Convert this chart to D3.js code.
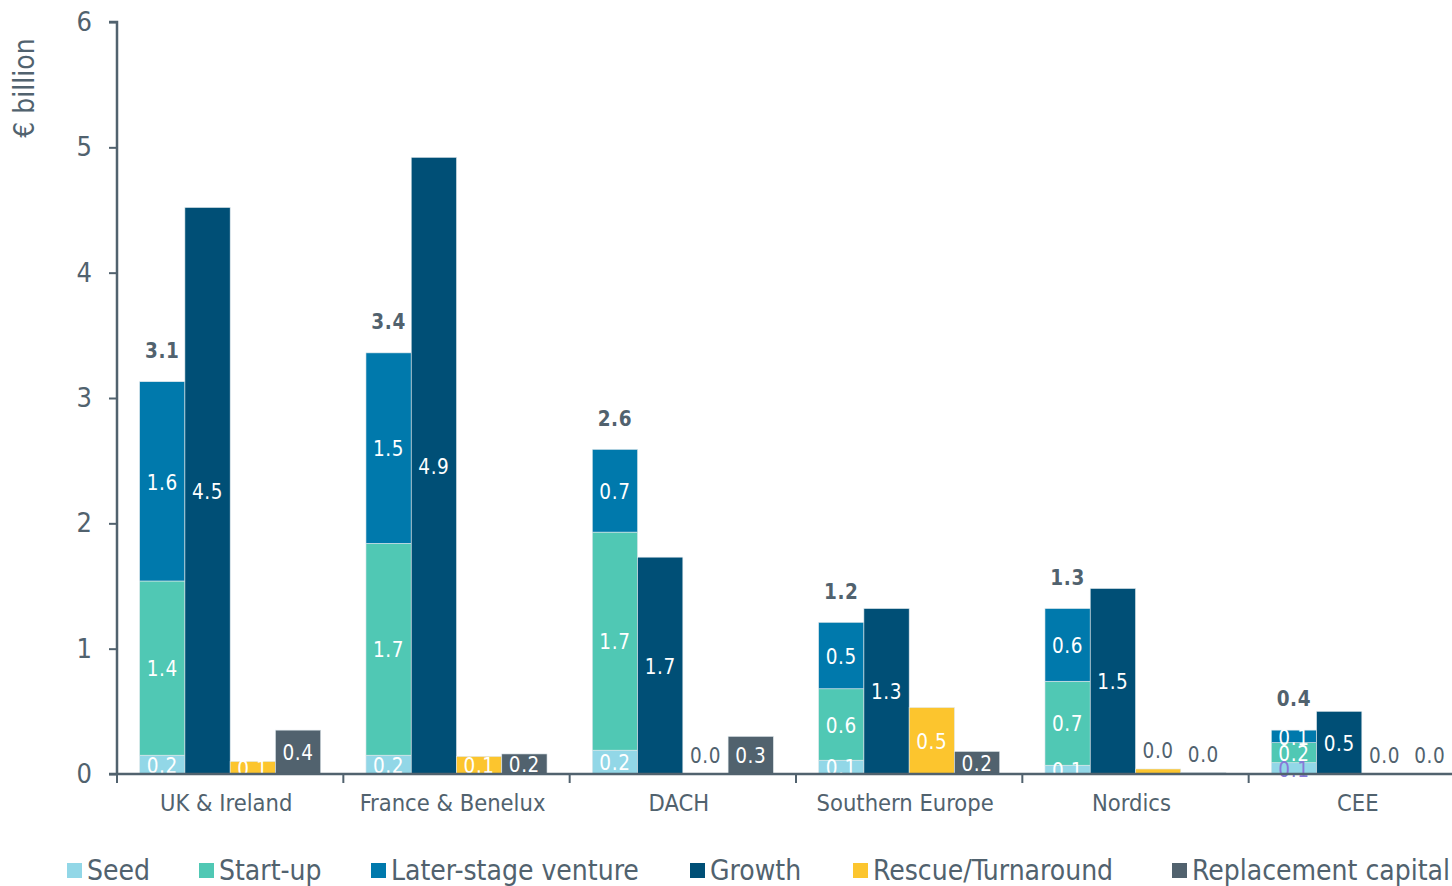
<!DOCTYPE html>
<html><head><meta charset="utf-8">
<script src="https://cdn.jsdelivr.net/npm/d3@7"></script>
<style>
html,body{margin:0;padding:0;background:#fff;overflow:hidden}
svg{display:block;font-family:"DejaVu Sans Condensed","DejaVu Sans",sans-serif}
</style></head><body>
<svg id="c" width="1452" height="886"></svg>
<script>
const categories = ["UK & Ireland","France & Benelux","DACH","Southern Europe","Nordics","CEE"];
const seed      = [0.15, 0.15, 0.19, 0.11, 0.07, 0.09];
const startup   = [1.39, 1.69, 1.74, 0.57, 0.67, 0.16];
const laterStage= [1.59, 1.52, 0.66, 0.53, 0.58, 0.10];
const growth    = [4.52, 4.92, 1.73, 1.32, 1.48, 0.50];
const rescue    = [0.10, 0.14, 0.003, 0.53, 0.04, 0.0];
const replacement=[0.35, 0.16, 0.30, 0.18, 0.01, 0.0];
const ventureTotals = ["3.1","3.4","2.6","1.2","1.3","0.4"];
const seedLabels = ["0.2","0.2","0.2","0.1","0.1","0.1"];
const startupLabels = ["1.4","1.7","1.7","0.6","0.7","0.2"];
const laterLabels = ["1.6","1.5","0.7","0.5","0.6","0.1"];
const growthLabels = ["4.5","4.9","1.7","1.3","1.5","0.5"];
const rescueLabels = ["0.1","0.1","0.0","0.5","0.0","0.0"];
const replacementLabels = ["0.4","0.2","0.3","0.2","0.0","0.0"];
const yTicks = [0,1,2,3,4,5,6];
const seriesNames = ["Seed","Start-up","Later-stage venture","Growth","Rescue/Turnaround","Replacement capital"];
const colors = ["#92d7e7","#50c8b4","#0079ac","#004f76","#fcc52e","#51626e"];

const svg = d3.select("#c");
const axisColor = "#51626e", textColor = "#51626e";
const x0 = 117, x1 = 1475, yBottom = 774, yTop = 22;
const x = d3.scaleBand().domain(categories).range([x0, x1]).padding(0);
const inner = d3.scaleBand().domain(["venture","growth","rescue","replacement"])
  .range([x.bandwidth()*0.1, x.bandwidth()*0.9]).padding(0);
const y = d3.scaleLinear().domain([0,6]).range([yBottom, yTop]);

const g = svg.append("g");
const bw = inner.bandwidth();

function label(xc, yc, txt, fill, bold){
  g.append("text").attr("x", xc).attr("y", yc).attr("dy","0.35em")
    .attr("text-anchor","middle").attr("fill", fill)
    .attr("font-size", 20.5).attr("font-weight", bold?"bold":"normal")
    .attr("letter-spacing", 0.6).text(txt);
}

categories.forEach((c,i)=>{
  const cx = x(c);
  const segs = [[seed[i], colors[0], seedLabels[i]],[startup[i], colors[1], startupLabels[i]],[laterStage[i], colors[2], laterLabels[i]]];
  let base = 0;
  const vx = cx + inner("venture");
  segs.forEach(([v,col,lab],k)=>{
    g.append("rect").attr("x", vx).attr("y", y(base+v)).attr("width", bw)
      .attr("height", y(base)-y(base+v)).attr("fill", col)
      .attr("stroke","#dfe8ec").attr("stroke-width",0.6);
    base += v;
  });
  base = 0;
  segs.forEach(([v,col,lab],k)=>{
    const fill = (i===5 && k===0) ? "#8878d8" : "#ffffff";
    label(vx+bw/2, (y(base)+y(base+v))/2 + 1, lab, fill, false);
    base += v;
  });
  label(vx+bw/2, y(base)-31, ventureTotals[i], textColor, true);

  const singles = [["growth", growth[i], colors[3], growthLabels[i]],
                   ["rescue", rescue[i], colors[4], rescueLabels[i]],
                   ["replacement", replacement[i], colors[5], replacementLabels[i]]];
  singles.forEach(([key,v,col,lab])=>{
    const bx = cx + inner(key);
    g.append("rect").attr("x", bx).attr("y", y(v)).attr("width", bw)
      .attr("height", y(0)-y(v)).attr("fill", col)
      .attr("stroke","#dfe8ec").attr("stroke-width",0.6);
    if (v < 0.06) label(bx+bw/2, y(v)-18, lab, textColor, false);
    else label(bx+bw/2, (y(0)+y(v))/2 + 1, lab, "#ffffff", false);
  });
});

// Y axis
const yAxis = d3.axisLeft(y).tickValues(yTicks).tickSize(8).tickPadding(17).tickFormat(d3.format("d"));
const ya = svg.append("g").attr("transform",`translate(${x0},0)`).call(yAxis);
ya.select(".domain").attr("stroke", axisColor).attr("stroke-width",2.5).attr("d",`M-8,${yTop}H0V${yBottom}`);
ya.selectAll(".tick line").attr("stroke", axisColor).attr("stroke-width",2);
ya.selectAll(".tick text").attr("fill", textColor).attr("font-size",27).attr("font-family","DejaVu Sans Condensed, DejaVu Sans, sans-serif");

// X axis
const xAxis = d3.axisBottom(x).tickSize(0).tickPadding(20);
const xa = svg.append("g").attr("transform",`translate(0,${yBottom})`).call(xAxis);
xa.select(".domain").attr("stroke", axisColor).attr("stroke-width",2.5).attr("d",`M${x0-8},0H${x1}`);
xa.selectAll(".tick text").attr("fill", textColor).attr("font-size",23.5).attr("dx",-4)
  .attr("font-family","DejaVu Sans Condensed, DejaVu Sans, sans-serif");
const bounds = categories.map(c=>x(c));
xa.selectAll(".bnd").data(bounds).enter().append("line").attr("class","bnd")
  .attr("x1",d=>d).attr("x2",d=>d).attr("y1",0).attr("y2",9)
  .attr("stroke",axisColor).attr("stroke-width",2);

// Y title
svg.append("text").attr("transform","translate(34,88) rotate(-90)")
  .attr("text-anchor","middle").attr("fill",textColor).attr("font-size",28).text("€ billion");

// Legend
const legX = [67,199,371,690,853,1172];
const lg = svg.append("g");
seriesNames.forEach((n,i)=>{
  lg.append("rect").attr("x",legX[i]).attr("y",863).attr("width",15).attr("height",15).attr("fill",colors[i]);
  lg.append("text").attr("x",legX[i]+20).attr("y",880).attr("fill",textColor).attr("font-size",28).text(n);
});
</script></body></html>
